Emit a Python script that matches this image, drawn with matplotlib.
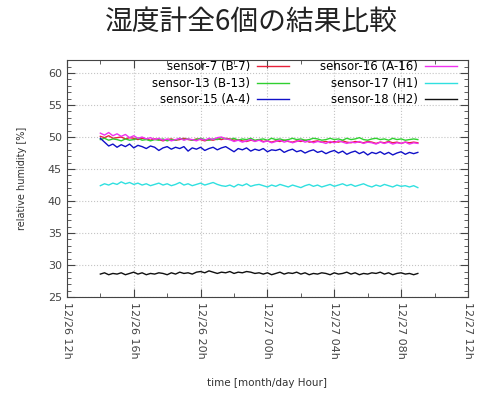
import numpy as np
import pandas as pd
import matplotlib
matplotlib.use('Agg')
import matplotlib.pyplot as plt
import matplotlib.dates as mdates

# данные (чтение с картинки, шаг ~15 минут)
t_start = '2013-12-26 14:00'
t_end = '2013-12-27 09:00'

s7 = [50.1, 49.9, 50.2, 49.8, 49.9, 50.0, 49.7, 49.9, 49.8, 49.6, 49.8, 49.7, 49.5, 49.7, 49.6, 49.4,
      49.6, 49.7, 49.5, 49.6, 49.8, 49.6, 49.5, 49.7, 49.6, 49.4, 49.6, 49.5, 49.7, 49.6, 49.8, 49.7,
      49.5, 49.6, 49.4, 49.3, 49.5, 49.4, 49.6, 49.3, 49.4, 49.2, 49.4, 49.3, 49.5, 49.3, 49.2, 49.4,
      49.3, 49.5, 49.2, 49.3, 49.4, 49.2, 49.3, 49.1, 49.3, 49.2, 49.4, 49.2, 49.1, 49.3, 49.2, 49.1,
      49.3, 49.2, 49.0, 49.2, 49.1, 49.3, 49.1, 49.2, 49.0, 49.2, 49.1, 49.2, 49.1]
s13 = [49.6, 49.8, 49.5, 49.7, 49.6, 49.4, 49.7, 49.5, 49.6, 49.8, 49.5, 49.6, 49.4, 49.6, 49.5, 49.7,
       49.4, 49.6, 49.5, 49.8, 49.6, 49.7, 49.5, 49.6, 49.8, 49.6, 49.5, 49.7, 49.6, 49.9, 49.7, 49.6,
       49.8, 49.5, 49.7, 49.6, 49.8, 49.5, 49.6, 49.7, 49.5, 49.8, 49.6, 49.7, 49.5, 49.6, 49.8, 49.6,
       49.7, 49.5, 49.6, 49.8, 49.7, 49.5, 49.6, 49.8, 49.6, 49.7, 49.5, 49.8, 49.6, 49.7, 49.9, 49.6,
       49.5, 49.7, 49.8, 49.6, 49.7, 49.5, 49.8, 49.6, 49.7, 49.5, 49.6, 49.7, 49.6]
s15 = [49.8, 49.2, 48.6, 48.9, 48.4, 48.8, 48.5, 48.9, 48.3, 48.7, 48.5, 48.2, 48.6, 48.4, 47.9, 48.3,
       48.5, 48.1, 48.4, 48.2, 48.5, 47.8, 48.3, 48.1, 48.4, 47.9, 48.2, 48.4, 48.0, 48.3, 48.5, 48.1,
       47.7, 48.2, 48.0, 48.3, 47.8, 48.1, 47.9, 48.2, 47.7, 48.0, 47.9, 48.1, 47.6, 47.9, 48.1, 47.7,
       47.9, 47.5, 47.8, 48.0, 47.6, 47.8, 47.4, 47.7, 47.9, 47.5, 47.8, 47.3, 47.6, 47.8, 47.4, 47.7,
       47.2, 47.6, 47.4, 47.7, 47.3, 47.6, 47.2, 47.5, 47.7, 47.3, 47.6, 47.4, 47.6]
s16 = [50.6, 50.3, 50.7, 50.2, 50.5, 50.1, 50.4, 49.9, 50.2, 49.8, 50.0, 49.7, 49.9, 49.6, 49.8, 49.5,
       49.7, 49.4, 49.6, 49.8, 49.5, 49.7, 49.6, 49.4, 49.7, 49.5, 49.8, 49.6, 49.9, 50.0, 49.7, 49.6,
       49.3, 49.5, 49.2, 49.4, 49.6, 49.3, 49.5, 49.2, 49.4, 49.1, 49.3, 49.5, 49.2, 49.4, 49.1, 49.3,
       49.5, 49.2, 49.4, 49.1, 49.3, 49.2, 49.0, 49.3, 49.1, 49.4, 49.2, 49.0, 49.2, 49.1, 49.3, 49.0,
       49.2, 49.1, 48.9, 49.2, 49.0, 49.2, 48.9, 49.1, 49.0, 49.2, 48.9, 49.1, 49.0]
s17 = [42.4, 42.7, 42.5, 42.8, 42.6, 43.0, 42.7, 42.9, 42.6, 42.8, 42.5, 42.7, 42.4, 42.6, 42.8, 42.5,
       42.7, 42.4, 42.6, 42.9, 42.5, 42.7, 42.4, 42.6, 42.8, 42.5, 42.7, 42.9, 42.6, 42.4, 42.3, 42.5,
       42.2, 42.6, 42.4, 42.7, 42.3, 42.5, 42.6, 42.4, 42.2, 42.5, 42.3, 42.6, 42.4, 42.2, 42.5, 42.3,
       42.1, 42.4, 42.6, 42.3, 42.5, 42.2, 42.4, 42.6, 42.3, 42.5, 42.7, 42.4, 42.6, 42.3, 42.5, 42.7,
       42.4, 42.2, 42.5, 42.3, 42.6, 42.4, 42.2, 42.5, 42.3, 42.4, 42.2, 42.4, 42.1]
s18 = [28.6, 28.8, 28.5, 28.7, 28.6, 28.8, 28.5, 28.7, 28.9, 28.6, 28.8, 28.5, 28.7, 28.6, 28.8, 28.7,
       28.5, 28.8, 28.6, 28.9, 28.7, 28.8, 28.6, 28.9, 29.0, 28.8, 29.1, 28.9, 28.7, 28.9, 28.8, 29.0,
       28.7, 28.9, 28.8, 29.0, 28.9, 28.7, 28.8, 28.6, 28.8, 28.5, 28.7, 28.9, 28.6, 28.8, 28.7, 28.9,
       28.6, 28.8, 28.5, 28.7, 28.6, 28.8, 28.7, 28.5, 28.8, 28.6, 28.7, 28.9, 28.6, 28.8, 28.5, 28.7,
       28.6, 28.8, 28.7, 28.9, 28.6, 28.8, 28.5, 28.7, 28.8, 28.6, 28.7, 28.5, 28.7]

labels = ['sensor-7 (B-7)', 'sensor-13 (B-13)', 'sensor-15 (A-4)',
          'sensor-16 (A-16)', 'sensor-17 (H1)', 'sensor-18 (H2)']
series = [s7, s13, s15, s16, s17, s18]
colors = ['#e8203a', '#30d030', '#1010c8', '#f030f0', '#30e0e0', '#101010']

fig = plt.figure(figsize=(4.78, 4.01), dpi=100)
ax = fig.add_axes([0.140, 0.259, 0.839, 0.591])

for vals, lab, c in zip(series, labels, colors):
    tt = pd.date_range(t_start, t_end, periods=len(vals))
    ax.plot(tt, vals, color=c, lw=1.0, label=lab)

ax.set_xlim(pd.Timestamp('2013-12-26 12:00'), pd.Timestamp('2013-12-27 12:00'))
ax.set_ylim(25, 62)
ax.set_yticks(np.arange(25, 61, 5))
ax.yaxis.set_minor_locator(plt.MultipleLocator(1))
ax.xaxis.set_major_locator(mdates.HourLocator(byhour=range(0, 24, 4)))
ax.xaxis.set_minor_locator(mdates.HourLocator(byhour=range(2, 24, 4)))
ax.xaxis.set_major_formatter(mdates.DateFormatter('%m/%d %Hh'))

ax.tick_params(which='both', direction='in', top=True, right=True, colors='#444444',
               labelsize=8)
ax.tick_params(which='major', length=6)
ax.tick_params(which='minor', length=3)
for lbl in ax.get_xticklabels():
    lbl.set_rotation(-90)
    lbl.set_va('top')
    lbl.set_ha('center')
for sp in ax.spines.values():
    sp.set_color('#444444')

ax.grid(True, which='major', ls=':', color='#c4c4c4', lw=0.8)

ax.legend(ncol=2, loc='upper right', frameon=False, markerfirst=False, fontsize=8.5,
          handlelength=2.7, handletextpad=0.6, columnspacing=2.6, labelspacing=0.3,
          borderaxespad=0.0, borderpad=0.0, bbox_to_anchor=(0.972, 1.0))

ax.set_xlabel('time [month/day Hour]', fontsize=7.5, color='#333333', labelpad=14)
ax.set_ylabel('relative humidity [%]', fontsize=7, color='#333333', labelpad=15)

fig.text(0.525, 0.945, '湿度計全6個の結果比較', ha='center', va='center', fontsize=20,
         family=['Noto Sans CJK JP', 'DejaVu Sans'], color='#222222')

fig.savefig('out.png', dpi=100)
